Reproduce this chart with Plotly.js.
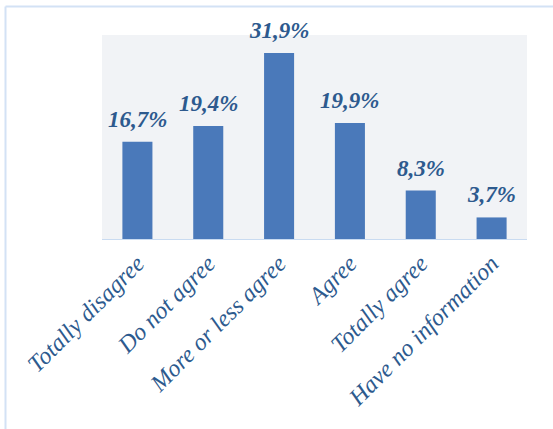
<!DOCTYPE html>
<html>
<head>
<meta charset="utf-8">
<script src="https://cdn.plot.ly/plotly-3.0.1.min.js"></script>
<style>
html,body{margin:0;padding:0;background:#fff;}
#chart{width:553px;height:429px;}
</style>
</head>
<body>
<div id="chart"></div>
<script>
const categories = ["Totally disagree", "Do not agree", "More or less agree", "Agree", "Totally agree", "Have no information"];
const values = [16.7, 19.4, 31.9, 19.9, 8.3, 3.7];

const labelText = values.map(v => v.toFixed(1).replace('.', ',') + '%');
const textColor = '#2d5a8e';
const serif = 'Liberation Serif';

const trace = {
  type: 'bar',
  x: categories,
  y: values,
  marker: {color: '#4a79ba'},
  hoverinfo: 'skip'
};

const annotations = categories.map((c, i) => ({
  x: c, y: values[i], xref: 'x', yref: 'y',
  text: labelText[i], showarrow: false,
  yanchor: 'bottom', yshift: 8,
  font: {family: serif, size: 23, color: textColor, weight: 'bold', style: 'italic'}
}));

const L = 102, R = 26, T = 35, B = 190;
const W = 553, H = 429;
const pw = W - L - R, ph = H - T - B;
const px = x => (x - L) / pw;
const py = y => 1 - (y - T) / ph;

const layout = {
  width: W, height: H,
  margin: {l: L, r: R, t: T, b: B, pad: 0},
  paper_bgcolor: '#ffffff',
  plot_bgcolor: '#f1f3f6',
  showlegend: false,
  bargap: 0.576,
  xaxis: {
    showgrid: false, zeroline: false,
    showline: true, linecolor: '#c9dbf1', linewidth: 1,
    ticks: '', tickangle: -45,
    tickfont: {family: serif, size: 24, color: textColor, style: 'italic'}
  },
  yaxis: {
    range: [0, 35], showgrid: false, zeroline: false,
    showticklabels: false, showline: false, ticks: ''
  },
  annotations: annotations,
  shapes: [
    {type: 'line', xref: 'paper', yref: 'paper', x0: px(5.5), x1: px(5.5), y0: py(6.5), y1: py(440), line: {color: '#d3e2f5', width: 2}},
    {type: 'line', xref: 'paper', yref: 'paper', x0: px(5.5), x1: px(560), y0: py(6.5), y1: py(6.5), line: {color: '#d3e2f5', width: 2}}
  ]
};

Plotly.newPlot('chart', [trace], layout, {displayModeBar: false, staticPlot: true});
</script>
</body>
</html>
